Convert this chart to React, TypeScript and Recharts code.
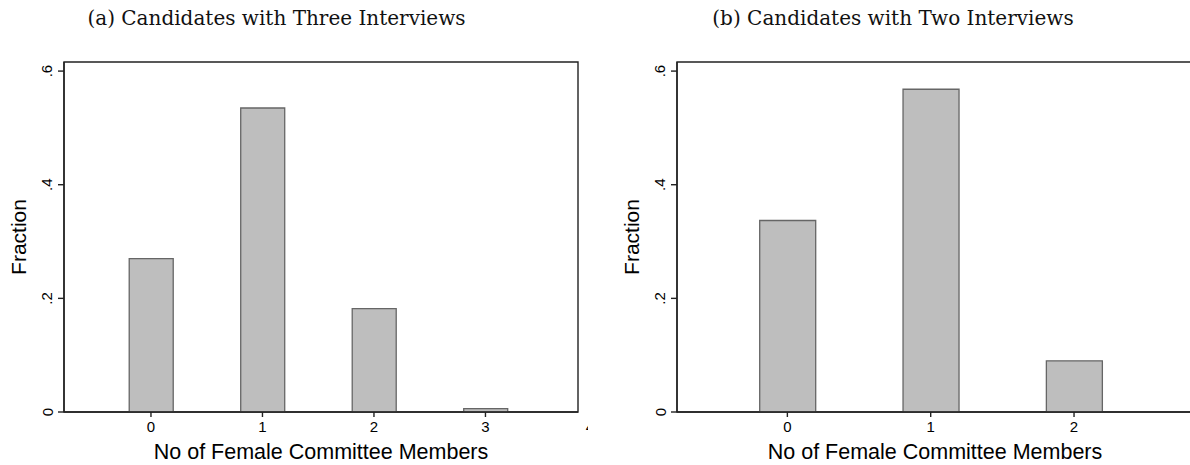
import React from 'react';
import {
  ComposedChart,
  Bar,
  XAxis,
  YAxis,
  ReferenceArea,
} from 'recharts';

// committee composition, panel (a) and (b)
const membersA = [0, 1, 2, 3];
const fractionA = [0.27, 0.535, 0.182, 0.006];
const membersB = [0, 1, 2];
const fractionB = [0.337, 0.568, 0.09];

const xTicksA = [0, 1, 2, 3, 4];
const xTicksB = [0, 1, 2];
const yTicks = [0, 0.2, 0.4, 0.6];

const titleA = '(a) Candidates with Three Interviews';
const titleB = '(b) Candidates with Two Interviews';
const xTitle = 'No of Female Committee Members';
const yTitle = 'Fraction';

const SANS = '"Liberation Sans", Arial, sans-serif';
const AXIS = '#222';

const fmtY = (v: number) => (v === 0 ? '0' : String(v).replace(/^0/, ''));

function YTick(props: any) {
  const { x, y, payload } = props;
  return (
    <text
      x={x}
      y={y}
      transform={`rotate(-90, ${x}, ${y})`}
      textAnchor="middle"
      dominantBaseline="central"
      fontSize={15}
      fontFamily={SANS}
      fill="#000"
    >
      {fmtY(payload.value)}
    </text>
  );
}

function XTick(props: any) {
  const { x, y, payload } = props;
  return (
    <text
      x={x}
      y={y + 7}
      textAnchor="middle"
      dominantBaseline="central"
      fontSize={15}
      fontFamily={SANS}
      fill="#000"
    >
      {payload.value}
    </text>
  );
}

function Panel({
  members,
  fraction,
  xTicks,
  xDomain,
  width,
  rightMargin,
  barSize,
}: {
  members: number[];
  fraction: number[];
  xTicks: number[];
  xDomain: [number, number];
  width: number;
  rightMargin: number;
  barSize: number;
}) {
  const data = members.map((m, i) => ({ x: m, y: fraction[i] }));
  return (
    <ComposedChart
      width={width}
      height={465}
      data={data}
      margin={{ top: 62, right: rightMargin, bottom: 0, left: 0 }}
      style={{ overflow: 'visible' }}
    >
      <XAxis
        type="number"
        dataKey="x"
        domain={xDomain}
        ticks={xTicks}
        allowDataOverflow
        height={53}
        tickSize={5}
        tickMargin={2}
        stroke={AXIS}
        strokeWidth={1.4}
        tick={<XTick />}
        label={{
          value: xTitle,
          position: 'insideBottom',
          offset: 6,
          fontSize: 21.5,
          fontFamily: SANS,
          fill: '#000',
        }}
      />
      <YAxis
        type="number"
        domain={[0, 0.616]}
        ticks={yTicks}
        allowDataOverflow
        width={64}
        tickSize={6}
        tickMargin={11}
        stroke={AXIS}
        strokeWidth={1.4}
        tick={<YTick />}
        label={{
          value: yTitle,
          angle: -90,
          position: 'insideLeft',
          offset: 19,
          fontSize: 21,
          fontFamily: SANS,
          fill: '#000',
          style: { textAnchor: 'middle' },
        }}
      />
      <ReferenceArea
        x1={xDomain[0]}
        x2={xDomain[1]}
        y1={0}
        y2={0.616}
        fill="none"
        stroke={AXIS}
        strokeWidth={1.4}
        fillOpacity={0}
        strokeOpacity={1}
      />
      <Bar
        dataKey="y"
        barSize={barSize}
        fill="#bebebe"
        stroke="#666"
        strokeWidth={1.3}
        isAnimationActive={false}
      />
    </ComposedChart>
  );
}

export default function App() {
  const titleStyle: React.CSSProperties = {
    position: 'absolute',
    top: 6,
    fontFamily: '"DejaVu Serif", serif',
    fontSize: 20,
    textAlign: 'center',
    color: '#111',
    whiteSpace: 'nowrap',
  };
  return (
    <div
      style={{
        position: 'absolute',
        left: 0,
        top: 0,
        width: 1190,
        height: 465,
        overflow: 'hidden',
        background: '#fff',
      }}
    >
      <div style={{ ...titleStyle, left: 0, width: 553 }}>{titleA}</div>
      <div style={{ ...titleStyle, left: 613, width: 560 }}>{titleB}</div>
      {/* panel (a) is cropped on the right, so the "4" tick label only peeks in */}
      <div style={{ position: 'absolute', left: 0, top: 0, width: 588, height: 465, overflow: 'hidden' }}>
        <Panel
          members={membersA}
          fraction={fractionA}
          xTicks={xTicksA}
          xDomain={[-0.78, 3.83]}
          width={594}
          rightMargin={16}
          barSize={44}
        />
      </div>
      <div style={{ position: 'absolute', left: 613, top: 0 }}>
        <Panel
          members={membersB}
          fraction={fractionB}
          xTicks={xTicksB}
          xDomain={[-0.77, 2.83]}
          width={596}
          rightMargin={16}
          barSize={56}
        />
      </div>
    </div>
  );
}
